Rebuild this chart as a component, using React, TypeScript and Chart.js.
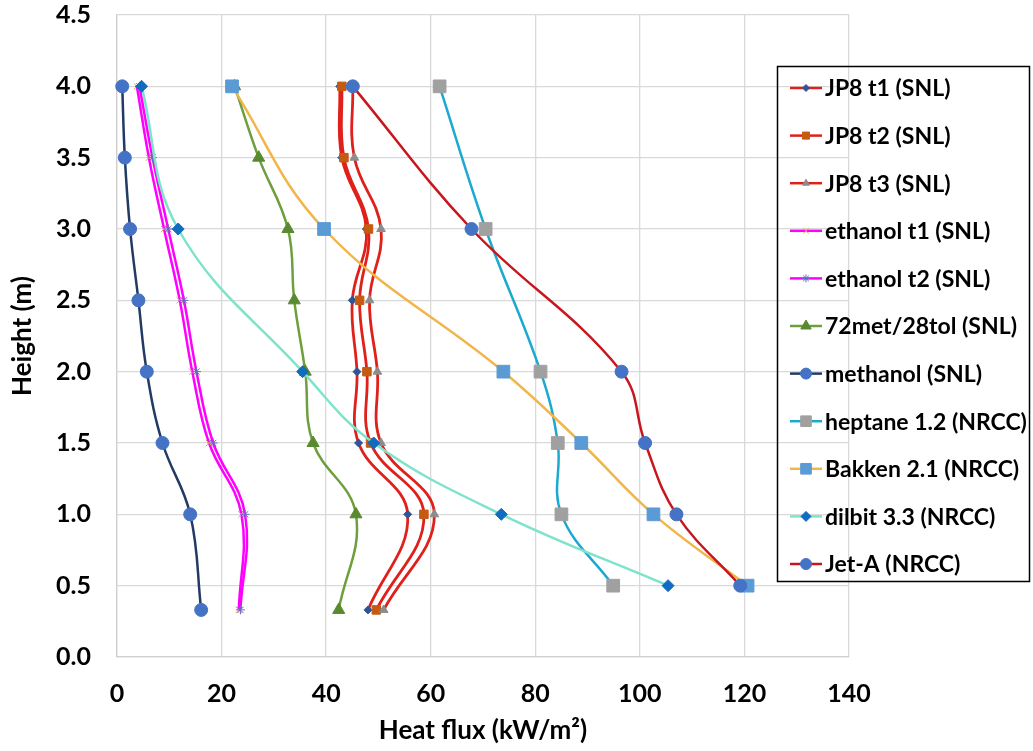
import React, { useEffect, useRef } from 'react';
import { Chart, registerables } from 'chart.js';
import { drawPoint } from 'chart.js/helpers';

Chart.register(...registerables);

// Heights (m)
const SNL_HEIGHTS = [4.0, 3.5, 3.0, 2.5, 2.0, 1.5, 1.0, 0.33];
const NRCC_HEIGHTS = [4.0, 3.0, 2.0, 1.5, 1.0, 0.5];

// Heat flux (kW/m2) per series
const JP8_T1 = [42.6, 43.0, 47.7, 45.0, 45.9, 46.2, 55.6, 48.0];
const JP8_T2 = [43.0, 43.4, 48.1, 46.4, 47.8, 48.5, 58.7, 49.6];
const JP8_T3 = [45.1, 45.4, 50.5, 48.3, 49.8, 50.5, 60.7, 51.0];
const ETHANOL_T1 = [3.8, 6.1, 9.0, 12.0, 14.4, 17.6, 23.8, 23.3];
const ETHANOL_T2 = [4.3, 6.8, 9.8, 12.8, 15.2, 18.4, 24.5, 23.6];
const MET_TOL = [22.5, 27.1, 32.7, 33.9, 36.0, 37.5, 45.7, 42.4];
const METHANOL = [1.0, 1.5, 2.5, 4.1, 5.7, 8.7, 14.0, 16.1];
const HEPTANE = [61.7, 70.5, 81.0, 84.3, 85.0, 94.9];
const BAKKEN = [22.0, 39.6, 73.9, 88.8, 102.6, 120.6];
const DILBIT = [4.7, 11.7, 35.5, 49.1, 73.5, 105.4];
const JET_A = [45.1, 67.8, 96.5, 101.0, 107.0, 119.2];

const X_TICKS = [0, 20, 40, 60, 80, 100, 120, 140];
const Y_TICKS = [0, 0.5, 1, 1.5, 2, 2.5, 3, 3.5, 4, 4.5];

const SERIES = [
  { label: 'JP8 t1 (SNL)', xs: JP8_T1, ys: SNL_HEIGHTS, line: '#E0201B', marker: '#2E5597', style: 'rectRot', r: 4, lr: 3.5, lw: 2.8 },
  { label: 'JP8 t2 (SNL)', xs: JP8_T2, ys: SNL_HEIGHTS, line: '#E0201B', marker: '#C55A11', style: 'rect', r: 6, lr: 5, lw: 2.8 },
  { label: 'JP8 t3 (SNL)', xs: JP8_T3, ys: SNL_HEIGHTS, line: '#E0201B', marker: '#8C8C8C', style: 'triangle', r: 5, lr: 4, lw: 2.8 },
  { label: 'ethanol t1 (SNL)', xs: ETHANOL_T1, ys: SNL_HEIGHTS, line: '#FF00FF', marker: '#E8A060', style: 'crossRot', r: 4.5, lr: 4, lw: 2.5 },
  { label: 'ethanol t2 (SNL)', xs: ETHANOL_T2, ys: SNL_HEIGHTS, line: '#FF00FF', marker: '#6A6AC0', style: 'star', r: 4.5, lr: 4, lw: 2.5 },
  { label: '72met/28tol (SNL)', xs: MET_TOL, ys: SNL_HEIGHTS, line: '#6E9E3E', marker: '#5A8A30', style: 'triangle', r: 7, lr: 6, lw: 2.5 },
  { label: 'methanol (SNL)', xs: METHANOL, ys: SNL_HEIGHTS, line: '#223A64', marker: '#4472C4', style: 'circle', r: 6.5, lr: 5.5, lw: 2.5 },
  { label: 'heptane 1.2 (NRCC)', xs: HEPTANE, ys: NRCC_HEIGHTS, line: '#1CA9CF', marker: '#A0A0A0', style: 'rect', r: 9, lr: 7.5, lw: 2.5 },
  { label: 'Bakken 2.1 (NRCC)', xs: BAKKEN, ys: NRCC_HEIGHTS, line: '#F2B54A', marker: '#5B9BD5', style: 'rect', r: 9, lr: 7.5, lw: 2.5 },
  { label: 'dilbit 3.3 (NRCC)', xs: DILBIT, ys: NRCC_HEIGHTS, line: '#7EE3CB', marker: '#0F6CBF', style: 'rectRot', r: 6, lr: 5, lw: 2.5 },
  { label: 'Jet-A (NRCC)', xs: JET_A, ys: NRCC_HEIGHTS, line: '#C8161E', marker: '#4472C4', style: 'circle', r: 6.5, lr: 5.5, lw: 2.5 },
];

const FONT = 'Lato, "Open Sans", sans-serif';

const legendPlugin = {
  id: 'boxLegend',
  afterDraw(chart: any) {
    const ctx = chart.ctx as CanvasRenderingContext2D;
    ctx.save();
    ctx.strokeStyle = '#000';
    ctx.lineWidth = 1.5;
    ctx.strokeRect(777.5, 66.5, 252, 515);
    SERIES.forEach((s, i) => {
      const y = 88 + i * 47.6;
      ctx.strokeStyle = s.line;
      ctx.lineWidth = 2.5;
      ctx.beginPath();
      ctx.moveTo(790, y);
      ctx.lineTo(822, y);
      ctx.stroke();
      ctx.fillStyle = s.marker;
      ctx.strokeStyle = s.marker;
      ctx.lineWidth = 1;
      drawPoint(ctx, { pointStyle: s.style as any, radius: s.lr, rotation: 0, borderWidth: 1 }, 806, y);
      ctx.fillStyle = '#000';
      ctx.font = `bold 23px ${FONT}`;
      ctx.textAlign = 'left';
      ctx.textBaseline = 'middle';
      ctx.fillText(s.label, 825, y + 1);
    });
    ctx.restore();
  },
};

export default function App() {
  const ref = useRef<HTMLCanvasElement | null>(null);

  useEffect(() => {
    if (!ref.current) return;
    const n = SERIES.length;
    const chart = new Chart(ref.current, {
      type: 'scatter',
      data: {
        datasets: SERIES.map((s, i) => ({
          label: s.label,
          data: s.xs.map((x, k) => ({ x, y: s.ys[k] })),
          showLine: true,
          tension: 0.4,
          borderColor: s.line,
          borderWidth: s.lw,
          backgroundColor: s.marker,
          pointBackgroundColor: s.marker,
          pointBorderColor: s.marker,
          pointBorderWidth: 1,
          pointStyle: s.style as any,
          pointRadius: s.r,
          order: n - i,
          clip: false as any,
        })),
      },
      options: {
        animation: false,
        responsive: true,
        maintainAspectRatio: false,
        layout: { padding: { left: 0, top: 15, right: 184, bottom: 0 } },
        plugins: {
          legend: { display: false },
          tooltip: { enabled: false },
        },
        scales: {
          x: {
            type: 'linear',
            min: 0,
            max: 140,
            afterBuildTicks: (scale: any) => {
              scale.ticks = X_TICKS.map((v) => ({ value: v }));
            },
            afterFit: (scale: any) => {
              scale.height = 94;
              scale.paddingLeft = 0;
              scale.paddingRight = 0;
            },
            grid: { color: '#D9D9D9', lineWidth: 1.3, drawTicks: false },
            border: { color: '#D0D0D0', width: 1.3 },
            ticks: {
              padding: 22,
              color: '#000',
              font: { family: FONT, size: 25, weight: 'bold' },
              callback: (v: any) => String(v),
            },
            title: {
              display: true,
              text: 'Heat flux (kW/m²)',
              color: '#000',
              font: { family: FONT, size: 26, weight: 'bold' },
              padding: { top: 0, bottom: 5 },
            },
          },
          y: {
            type: 'linear',
            min: 0,
            max: 4.5,
            afterBuildTicks: (scale: any) => {
              scale.ticks = Y_TICKS.map((v) => ({ value: v }));
            },
            afterFit: (scale: any) => {
              scale.width = 117;
              scale.paddingTop = 0;
              scale.paddingBottom = 0;
            },
            grid: { color: '#D9D9D9', lineWidth: 1.3, drawTicks: false },
            border: { color: '#D0D0D0', width: 1.3 },
            ticks: {
              padding: 26,
              color: '#000',
              font: { family: FONT, size: 25, weight: 'bold' },
              callback: (v: any) => Number(v).toFixed(1),
            },
            title: {
              display: true,
              text: 'Height (m)',
              color: '#000',
              font: { family: FONT, size: 26, weight: 'bold' },
              padding: { top: 7, bottom: 0 },
            },
          },
        },
      },
      plugins: [legendPlugin],
    });
    return () => chart.destroy();
  }, []);

  return (
    <div style={{ position: 'absolute', left: 0, top: 0, width: 1033, height: 751, background: '#fff' }}>
      <canvas ref={ref} />
    </div>
  );
}
